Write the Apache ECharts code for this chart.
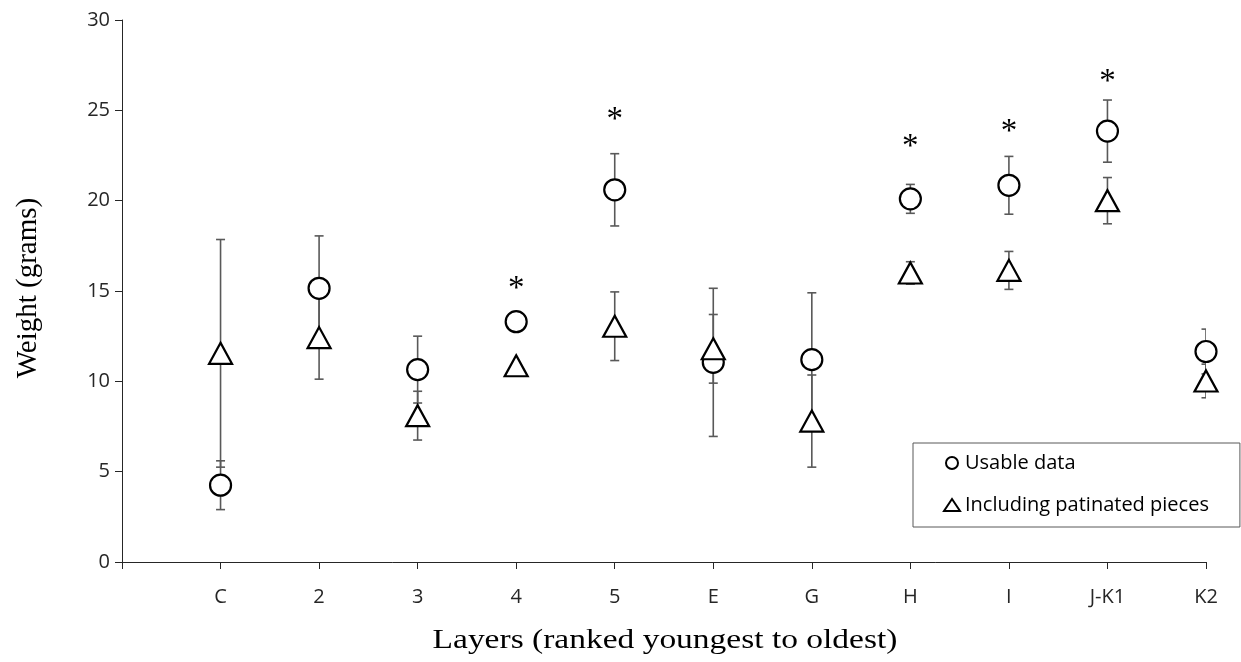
<!DOCTYPE html>
<html>
<head>
<meta charset="utf-8">
<script src="https://cdn.jsdelivr.net/npm/echarts@6/dist/echarts.min.js"></script>
<style>
  html, body { margin: 0; padding: 0; background: #fff; }
  #chart { width: 1241px; height: 662px; }
</style>
</head>
<body>
<div id="chart"></div>
<script>
// layers, ranked youngest to oldest
const layers = ['C', '2', '3', '4', '5', 'E', 'G', 'H', 'I', 'J-K1', 'K2'];
// usable data: mean weight and error
const usableMean = [4.25, 15.15, 10.65, 13.3, 20.6, 11.05, 11.2, 20.1, 20.85, 23.85, 11.65];
const usableErr = [1.35, 2.9, 1.85, 0, 2.0, 4.1, 3.7, 0.8, 1.6, 1.72, 1.24];
// including patinated pieces
const patMean = [11.55, 12.42, 8.1, 10.86, 13.05, 11.8, 7.8, 16.0, 16.14, 20.0, 10.02];
const patErr = [6.3, 2.3, 1.35, 0, 1.9, 1.9, 2.55, 0.62, 1.05, 1.28, 0.93];
// significance marks
const starLayers = ['4', '5', 'H', 'I', 'J-K1'];
const starY = [15.4, 24.8, 23.3, 24.1, 26.9];

const pos = name => layers.indexOf(name) + 1;

function errData(mean, err) {
  return mean.map((m, i) => [i + 1, m - err[i], m + err[i]]);
}

function renderErr(params, api) {
  const x = api.value(0);
  const lo = api.coord([x, api.value(1)]);
  const hi = api.coord([x, api.value(2)]);
  const cap = 4.5;
  const st = { stroke: '#595959', lineWidth: 1.6 };
  return {
    type: 'group',
    children: [
      { type: 'line', shape: { x1: lo[0], y1: lo[1], x2: hi[0], y2: hi[1] }, style: st },
      { type: 'line', shape: { x1: lo[0] - cap, y1: lo[1], x2: lo[0] + cap, y2: lo[1] }, style: st },
      { type: 'line', shape: { x1: hi[0] - cap, y1: hi[1], x2: hi[0] + cap, y2: hi[1] }, style: st }
    ]
  };
}

const chart = echarts.init(document.getElementById('chart'));
chart.setOption({
  animation: false,
  backgroundColor: '#fff',
  grid: { left: 122, right: 35, top: 20, bottom: 100 },
  graphic: [
    {
      type: 'text',
      x: 665,
      y: 641,
      scaleX: 1.24,
      style: {
        text: 'Layers (ranked youngest to oldest)',
        fontFamily: 'Liberation Serif',
        fontSize: 27,
        fill: '#000',
        align: 'center',
        verticalAlign: 'middle'
      }
    },
    {
      type: 'text',
      x: 28,
      y: 288,
      rotation: Math.PI / 2,
      style: {
        text: 'Weight (grams)',
        fontFamily: 'Liberation Serif',
        fontSize: 29,
        fill: '#000',
        align: 'center',
        verticalAlign: 'middle'
      }
    }
  ],
  legend: {
    left: 913,
    top: 443,
    orient: 'vertical',
    backgroundColor: '#fff',
    borderColor: '#595959',
    borderWidth: 1,
    borderRadius: 0,
    padding: [10, 31, 12, 30],
    itemGap: 22,
    itemWidth: 16,
    itemHeight: 12,
    textStyle: { fontFamily: 'Open Sans', fontSize: 20, color: '#000', lineHeight: 20 },
    data: [
      { name: 'Usable data', icon: 'circle', itemStyle: { color: '#fff', borderColor: '#000', borderWidth: 2 } },
      { name: 'Including patinated pieces', icon: 'triangle', itemStyle: { color: '#fff', borderColor: '#000', borderWidth: 2 } }
    ]
  },
  xAxis: {
    type: 'value',
    min: 0,
    max: 11,
    interval: 1,
    axisLine: { lineStyle: { color: '#262626', width: 1 } },
    axisTick: { show: true, length: 7, lineStyle: { color: '#262626' } },
    axisLabel: {
      margin: 25,
      fontFamily: 'Open Sans',
      fontSize: 20,
      color: '#262626',
      formatter: v => layers[v - 1] || ''
    },
    splitLine: { show: false }
  },
  yAxis: {
    type: 'value',
    min: 0,
    max: 30,
    interval: 5,
    axisLine: { show: true, lineStyle: { color: '#262626', width: 1 } },
    axisTick: { show: true, length: 7, lineStyle: { color: '#262626' } },
    axisLabel: { margin: 12, fontFamily: 'Open Sans', fontSize: 20, color: '#262626' },
    splitLine: { show: false }
  },
  series: [
    {
      type: 'custom',
      name: 'usableErr',
      renderItem: renderErr,
      data: errData(usableMean, usableErr),
      clip: true,
      z: 1
    },
    {
      type: 'custom',
      name: 'patErr',
      renderItem: renderErr,
      data: errData(patMean, patErr),
      clip: true,
      z: 1
    },
    {
      type: 'scatter',
      name: 'Usable data',
      symbol: 'circle',
      symbolSize: 21,
      itemStyle: { color: '#fff', borderColor: '#000', borderWidth: 2.2, opacity: 1 },
      data: usableMean.map((m, i) => [i + 1, m]),
      z: 3
    },
    {
      type: 'scatter',
      name: 'Including patinated pieces',
      symbol: 'triangle',
      symbolSize: [23, 21],
      itemStyle: { color: '#fff', borderColor: '#000', borderWidth: 2.2, opacity: 1 },
      data: patMean.map((m, i) => [i + 1, m]),
      z: 4
    },
    {
      type: 'custom',
      name: 'stars',
      data: starLayers.map((l, i) => [pos(l), starY[i]]),
      renderItem: (params, api) => {
        const p = api.coord([api.value(0), api.value(1)]);
        return {
          type: 'text',
          x: p[0],
          y: p[1] + 6,
          style: {
            text: '*',
            fontFamily: 'Liberation Serif',
            fontSize: 33,
            fill: '#000',
            align: 'center',
            verticalAlign: 'middle'
          }
        };
      },
      z: 5
    }
  ]
});
</script>
</body>
</html>
